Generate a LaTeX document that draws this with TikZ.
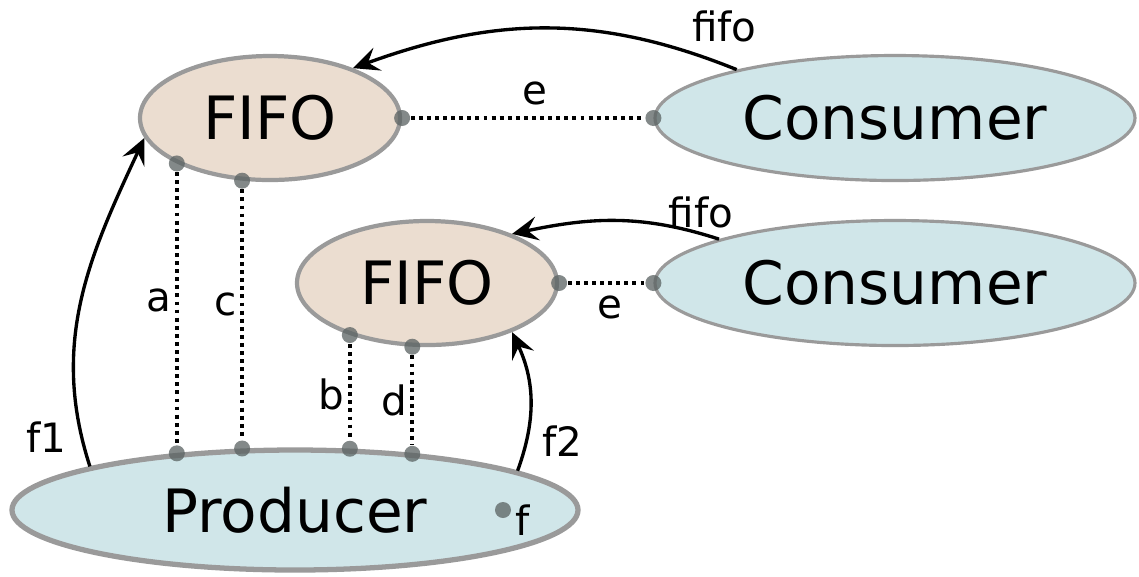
\documentclass[tikz,border=0pt]{standalone}
\usepackage{fontspec}
\setmainfont{DejaVu Sans}
\usetikzlibrary{positioning, arrows.meta, shapes.geometric}

\definecolor{fifofill}{HTML}{EBDDD0}
\definecolor{userfill}{HTML}{D0E6E9}
\definecolor{rim}{HTML}{9A9A9A}
\definecolor{portgray}{HTML}{5A6262}

\begin{document}
\begin{tikzpicture}[
  font=\fontsize{11.5}{13}\selectfont,
  proc/.style={ellipse, draw=rim, line width=1.2pt, inner sep=0pt, font=\fontsize{17}{20}\selectfont},
  fifo/.style={proc, fill=fifofill, minimum width=2.6cm, minimum height=1.24cm},
  user/.style={proc, fill=userfill, line width=0.9pt, minimum width=4.8cm, minimum height=1.25cm},
  port/.style={circle, fill=portgray, fill opacity=0.75, inner sep=0pt, minimum size=0.16cm},
  wire/.style={dash pattern=on 1.1pt off 1.2pt, line width=1.1pt},
  lbl/.style={inner sep=1pt},
  arr/.style={-{Stealth[length=2.6mm, width=2.4mm, inset=1mm]}, line width=0.95pt}
]
  \useasboundingbox (0,0) rectangle (11.39,-5.76);

  \node[fifo] (fifoA) at (2.70,-1.18) {FIFO};
  \node[user] (consA) at (8.95,-1.18) {Consumer};
  \node[fifo] (fifoB) at (4.27,-2.83) {FIFO};
  \node[user] (consB) at (8.95,-2.83) {Consumer};
  \node[proc, fill=userfill, line width=1.5pt, minimum width=5.66cm, minimum height=1.2cm] (prod) at (2.95,-5.10) {Producer};

  % ports
  \node[port] (pa1) at (fifoA.206) {};
  \node[port] (pc1) at (fifoA.246) {};
  \node[port] (pe1) at (fifoA.east) {};
  \node[port] (qe1) at (consA.west) {};
  \node[port] (pb1) at (fifoB.214) {};
  \node[port] (pd1) at (fifoB.257) {};
  \node[port] (pe2) at (fifoB.east) {};
  \node[port] (qe2) at (consB.west) {};
  \node[port] (pa2) at (pa1 |- prod.155) {};
  \node[port] (pc2) at (pc1 |- prod.131) {};
  \node[port] (pb2) at (pb1 |- prod.46.5) {};
  \node[port] (pd2) at (pd1 |- prod.24.6) {};
  \node[port] (pf) at ([xshift=2.08cm]prod.center) {};
  \node[lbl, anchor=west] at ([yshift=-0.1cm]pf.east) {f};

  % dotted links
  \draw[wire] (pa1) -- node[lbl, left, pos=0.47] {a} (pa2);
  \draw[wire] (pc1) -- node[lbl, left, pos=0.46] {c} (pc2);
  \draw[wire] (pb1) -- node[lbl, left, pos=0.53] {b} (pb2);
  \draw[wire] (pd1) -- node[lbl, left, pos=0.5] {d} (pd2);
  \draw[wire] (pe1) -- node[lbl, above=2pt, pos=0.53] {e} (qe1);
  \draw[wire] (pe2) -- node[lbl, below=2pt, pos=0.55] {e} (qe2);

  % flows
  \draw[arr] (prod.168) to[out=108, in=-115] node[lbl, left=3pt, pos=0.08] {f1} (fifoA.189);
  \draw[arr] (prod.10) to[out=70, in=-65] node[lbl, right=3pt, pos=0.2] {f2} (fifoB.-30);
  \draw[arr] (consA.163) to[out=158, in=20] node[lbl, above=5pt, pos=0.03] {fifo} (fifoA.31);
  \draw[arr] (consB.166) to[out=162, in=12] node[lbl, above, pos=0.08] {fifo} (fifoB.30);
\end{tikzpicture}
\end{document}
